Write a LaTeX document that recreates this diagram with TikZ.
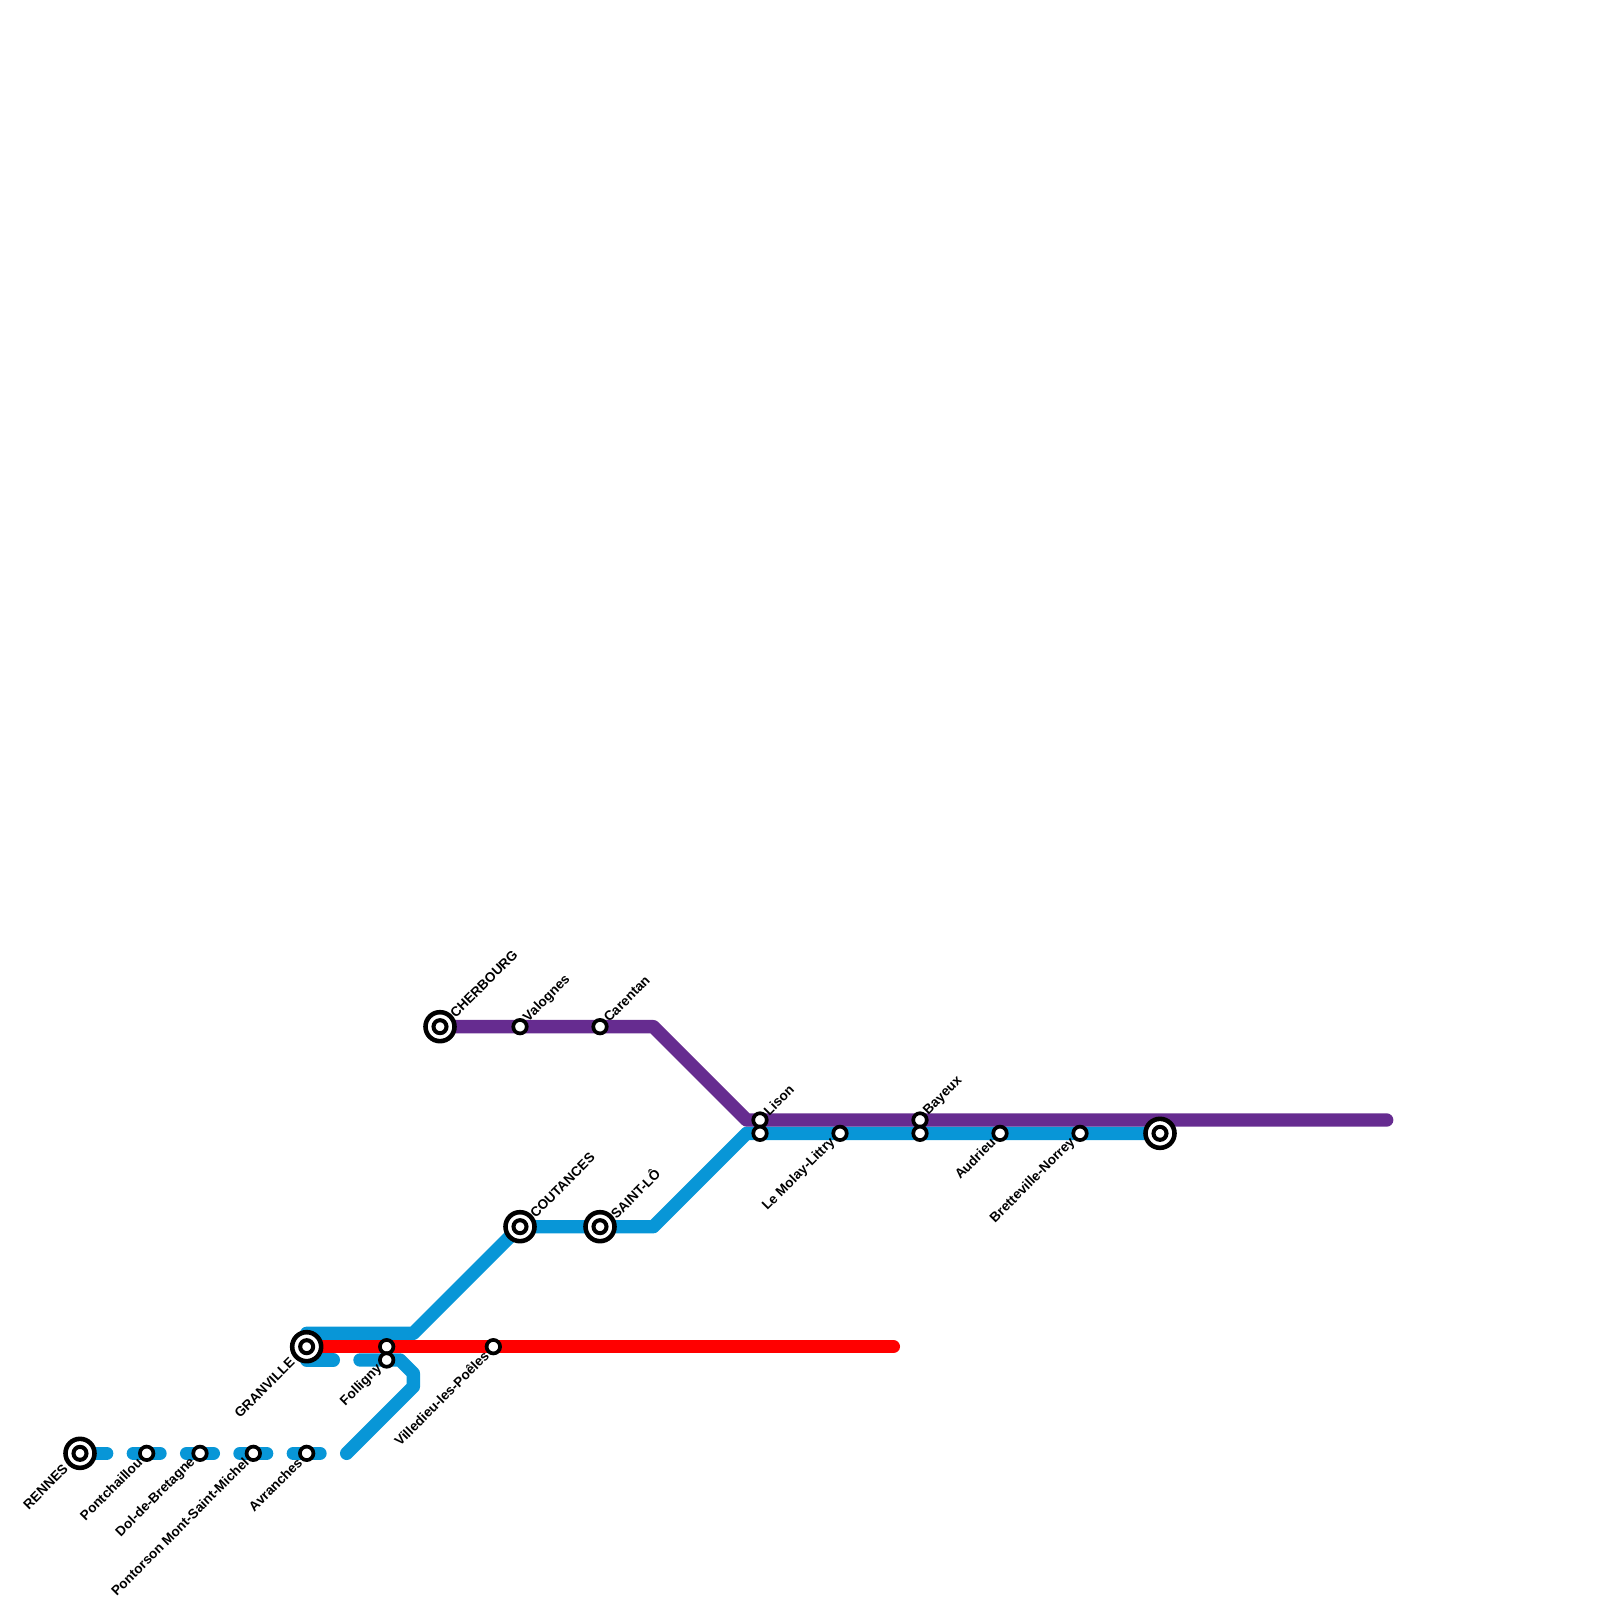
\documentclass[tikz,border=0pt]{standalone}
\usepackage{fontspec}
\setmainfont{Liberation Sans}
\usetikzlibrary{calc}

\definecolor{lineblue}{HTML}{0896D7}
\definecolor{linepurple}{HTML}{662C90}
\definecolor{linered}{HTML}{FF0000}

\begin{document}
\begin{tikzpicture}[
    x=0.01cm,
    y=-0.01cm,
    every node/.style={font=\bfseries\fontsize{3.85pt}{4.5pt}\selectfont},
    route/.style={line width=3.8pt, line cap=round, line join=round},
    smallstn/.style={circle, draw=black, fill=white, line width=1.05pt, minimum size=0.135cm, inner sep=0pt},
    bigstn/.style={circle, draw=black, fill=white, line width=1.3pt, minimum size=0.29cm, inner sep=0pt},
    corestn/.style={circle, draw=black, fill=white, line width=1.15pt, minimum size=0.13cm, inner sep=0pt},
    lblne/.style={rotate=45, anchor=west, inner sep=0pt},
    lblsw/.style={rotate=45, anchor=east, inner sep=0pt},
  ]
  \useasboundingbox (0,0) rectangle (1600,1600);

  % ------------------------------------------------------------------
  % Stations and bends, in pixels of the 1600 grid
  % ------------------------------------------------------------------
  \def\yTop{1026.67}   % Cherbourg branch
  \def\yPur{1120}      % purple main
  \def\yBlu{1133.33}   % blue main
  \def\yMid{1226.67}   % Coutances level
  \def\yUp{1333.33}    % blue above the red line
  \def\yRed{1346.67}   % red line
  \def\yLow{1360}      % blue under the red line
  \def\yWest{1453.33}  % Rennes branch

  \coordinate (bendtop) at (653.33,\yTop);
  \coordinate (joinpur) at (746.67,\yPur);
  \coordinate (endpur) at (1386.67,\yPur);
  \coordinate (joinblu) at (746.67,\yBlu);
  \coordinate (bendmid) at (653.33,\yMid);
  \coordinate (bendup) at (413.33,\yUp);
  \coordinate (startup) at (306.67,\yUp);
  \coordinate (startlow) at (306.67,\yLow);
  \coordinate (stoplow) at (333.33,\yLow);
  \coordinate (restart) at (360,\yLow);
  \coordinate (bendlow) at (400,\yLow);
  \coordinate (bendsideA) at (413.33,1373.33);
  \coordinate (bendsideB) at (413.33,1386.67);
  \coordinate (endwest) at (346.67,\yWest);
  \coordinate (endred) at (893.33,\yRed);

  % small stations
  \foreach \nm/\xx/\yy in {
      valognes/520/\yTop, carentan/600/\yTop,
      lisontop/760/\yPur, lison/760/\yBlu,
      molay/840/\yBlu,
      bayeux/920/\yPur, bayeuxlow/920/\yBlu,
      audrieu/1000/\yBlu, norrey/1080/\yBlu,
      folligny/386.67/\yRed, follignylow/386.67/\yLow,
      villedieu/493.33/\yRed,
      pontchaillou/146.67/\yWest, dol/200/\yWest,
      pontorson/253.33/\yWest, avranches/306.67/\yWest} {
    \coordinate (\nm) at (\xx,\yy);
  }
  % big stations
  \foreach \nm/\xx/\yy in {
      cherbourg/440/\yTop, caen/1160/\yBlu,
      coutances/520/\yMid, saintlo/600/\yMid,
      granville/306.67/\yRed, rennes/80/\yWest} {
    \coordinate (\nm) at (\xx,\yy);
  }

  % ------------------------------------------------------------------
  % Lines: blue first, purple and red on top of it
  % ------------------------------------------------------------------
  \draw[route, lineblue] (caen) -- (joinblu) -- (bendmid) -- (coutances)
       -- (bendup) -- (startup);
  \draw[route, lineblue] (startlow) -- (stoplow);
  \draw[route, lineblue] (restart) -- (bendlow) -- (bendsideA) -- (bendsideB) -- (endwest);

  % Rennes branch, broken into short pieces
  \draw[route, lineblue] (rennes) -- ++(26.67,0);
  \foreach \nm in {pontchaillou,dol,pontorson,avranches} {
    \draw[route, lineblue] ($(\nm)+(-13.33,0)$) -- ($(\nm)+(13.33,0)$);
  }

  \draw[route, linepurple] (cherbourg) -- (bendtop) -- (joinpur) -- (endpur);
  \draw[route, linered] (granville) -- (endred);

  % ------------------------------------------------------------------
  % Station marks
  % ------------------------------------------------------------------
  \foreach \nm in {valognes,carentan,lisontop,lison,molay,bayeux,bayeuxlow,
      audrieu,norrey,folligny,follignylow,villedieu,
      pontchaillou,dol,pontorson,avranches} {
    \node[smallstn] (\nm-mark) at (\nm) {};
  }
  \foreach \nm in {cherbourg,caen,coutances,saintlo,granville,rennes} {
    \node[bigstn] (\nm-mark) at (\nm) {};
    \node[corestn] (\nm-core) at (\nm) {};
  }

  % ------------------------------------------------------------------
  % Labels on the diagonal
  % ------------------------------------------------------------------
  \foreach \nm/\txt in {valognes/Valognes, carentan/Carentan,
      lisontop/Lison, bayeux/Bayeux} {
    \node[lblne] (\nm-lbl) at ($(\nm)+(5.5,-6.5)$) {\txt};
  }
  \foreach \nm/\txt in {cherbourg/CHERBOURG, coutances/COUTANCES, saintlo/SAINT-LÔ} {
    \node[lblne] (\nm-lbl) at ($(\nm)+(12,-11)$) {\txt};
  }
  \foreach \nm/\txt in {molay/Le Molay-Littry, audrieu/Audrieu, norrey/Bretteville-Norrey,
      follignylow/Folligny, villedieu/Villedieu-les-Poêles,
      pontchaillou/Pontchaillou, dol/Dol-de-Bretagne,
      pontorson/Pontorson Mont-Saint-Michel, avranches/Avranches} {
    \node[lblsw] (\nm-lbl) at ($(\nm)+(-6.5,6.5)$) {\txt};
  }
  \foreach \nm/\txt in {granville/GRANVILLE, rennes/RENNES} {
    \node[lblsw] (\nm-lbl) at ($(\nm)+(-14,13)$) {\txt};
  }

\end{tikzpicture}
\end{document}
